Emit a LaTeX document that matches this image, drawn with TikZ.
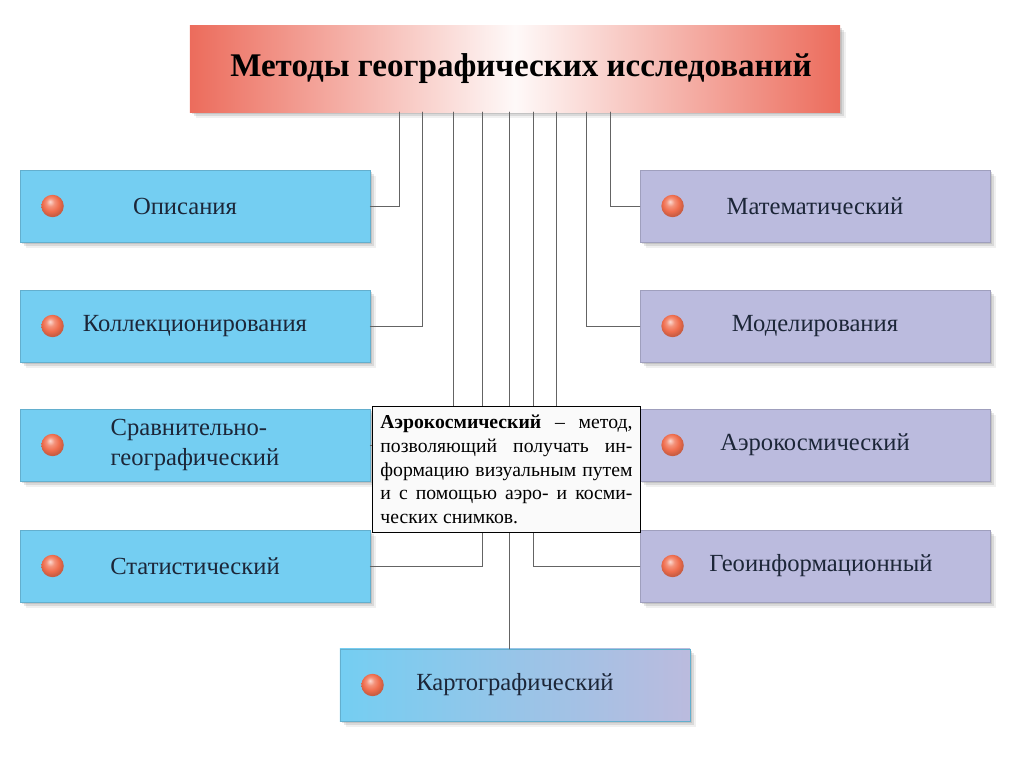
\documentclass[tikz,border=0pt]{standalone}
\usepackage{fontspec}
\setmainfont{Liberation Serif}
\usepackage{tikz}
\usetikzlibrary{shadows}
\usepackage{xcolor}
\definecolor{boxblue}{RGB}{116,206,242}
\definecolor{boxlav}{RGB}{187,187,222}
\definecolor{titlered}{RGB}{236,108,92}
\definecolor{linkgray}{RGB}{100,100,100}
\definecolor{beadred}{RGB}{240,110,78}
\definecolor{labelink}{RGB}{28,38,56}
\pgfdeclareradialshading{bead}{\pgfpoint{-6bp}{10bp}}{color(0bp)=(white!75!beadred);
  color(9bp)=(beadred!75!white); color(18bp)=(beadred); color(26bp)=(beadred!85!black);
  color(50bp)=(beadred!65!black)}

\begin{document}
\begin{tikzpicture}[x=0.025cm,y=-0.025cm,line cap=round,
  soft/.style={drop shadow={shadow xshift=1.5pt,shadow yshift=-1.5pt,opacity=0.25},
    drop shadow={shadow xshift=3pt,shadow yshift=-3pt,opacity=0.2},
    drop shadow={shadow xshift=4.5pt,shadow yshift=-4.5pt,opacity=0.12}},
  method/.style={minimum width=8.75cm,minimum height=1.8cm,inner sep=0pt,text=labelink,
    font=\fontsize{17.5}{21}\selectfont,soft},
  leftbox/.style={method,fill=boxblue,draw=boxblue!85!black,line width=0.3pt},
  rightbox/.style={method,fill=boxlav,draw=boxlav!85!black,line width=0.3pt},
  titlebox/.style={minimum width=16.25cm,minimum height=2.15cm,inner sep=0pt,
    left color=titlered,right color=titlered,middle color=titlered!4,
    font=\bfseries\fontsize{23.5}{26}\selectfont,soft},
  note/.style={draw=black,line width=0.6pt,fill=gray!4,text width=6.3cm,inner xsep=0.2cm,
    inner ysep=3pt,minimum height=3.15cm,align=justify,font=\fontsize{14}{17}\selectfont},
  link/.style={draw=linkgray,line width=0.7pt},
  bead/.style={shading=bead}]
\useasboundingbox (0,0) rectangle (1024,768);

\node[titlebox] (title) at (515,69) {\hspace*{0.3cm}Методы географических исследований};

\node[leftbox] (opis) at (195,206) {\hspace*{-0.5cm}Описания};
\node[leftbox] (koll) at (195,326) {Коллекционирования};
\node[leftbox,align=left] (srav) at (195,445) {Сравнительно-\\географический};
\node[leftbox] (stat) at (195,566) {Статистический};
\node[rightbox] (matem) at (815,206) {Математический};
\node[rightbox] (model) at (815,326) {Моделирования};
\node[rightbox] (aero) at (815,445) {Аэрокосмический};
\node[rightbox] (geoinf) at (815,566) {\hspace*{0.3cm}Геоинформационный};
\node[method,left color=boxblue,right color=boxlav,draw=boxblue!85!black,line width=0.3pt] (karto) at (515,685) {Картографический};

\foreach \b in {opis,koll,srav,stat,matem,model,aero,geoinf,karto}
  \shade[bead] ([xshift=0.82cm]\b.west) circle (0.28cm);

\coordinate (t1) at (399,112);
\coordinate (t2) at (422,112);
\coordinate (t3) at (453,112);
\coordinate (t4) at (482,112);
\coordinate (t5) at (509,112);
\coordinate (t6) at (533,112);
\coordinate (t7) at (556,112);
\coordinate (t8) at (586,112);
\coordinate (t9) at (610,112);

\draw[link] (t1) |- (opis.east);
\draw[link] (t2) |- (koll.east);
\draw[link] (t3) |- (srav.east);
\draw[link] (t4) |- (stat.east);
\draw[link] (t5) -- (t5 |- karto.north);
\draw[link] (t6) |- (geoinf.west);
\draw[link] (t7) |- (aero.west);
\draw[link] (t8) |- (model.west);
\draw[link] (t9) |- (matem.west);

\node[note,anchor=north west] (hint) at (372,406) {\textbf{Аэрокосмический} – метод,\linebreak
  позволяющий получать ин-\linebreak
  формацию визуальным путем\linebreak
  и с помощью аэро- и косми-\linebreak
  ческих снимков.};
\end{tikzpicture}
\end{document}
